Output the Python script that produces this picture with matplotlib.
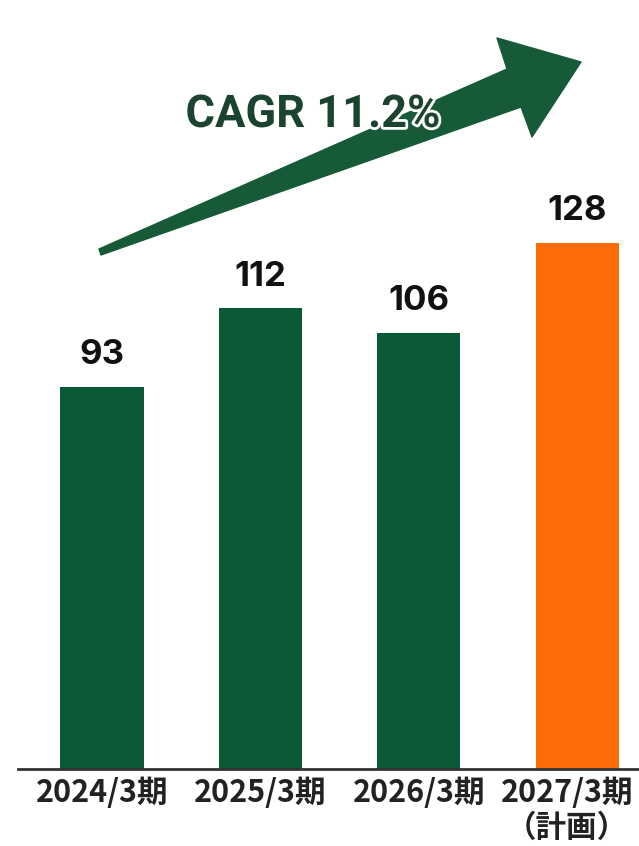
import matplotlib
matplotlib.use("Agg")
import matplotlib.pyplot as plt
from matplotlib.patches import Polygon
from matplotlib.transforms import ScaledTranslation
import matplotlib.patheffects as pe

# ---- data ----
categories = ["2024/3期", "2025/3期", "2026/3期", "2027/3期\n（計画）"]
values = [93, 112, 106, 128]
bar_colors = ["#0b5a37", "#0b5a37", "#0b5a37", "#fb6b06"]
cagr_label = "CAGR 11.2%"

W, H = 639, 846
fig = plt.figure(figsize=(W / 100, H / 100), dpi=100)
fig.patch.set_facecolor("white")

ax = fig.add_axes([18 / W, 1 - 769 / H, 1 - 18 / W, 769 / H])
x = range(len(categories))
ax.bar(x, values, width=0.525, color=bar_colors, zorder=2)
ax.set_xlim(-0.53, 3.39)
ax.set_ylim(0, 187)

for xi, v in zip(x, values):
    ax.annotate(str(v), (xi, v), xytext=(0, 16.5), textcoords="offset points",
                ha="center", va="baseline", fontsize=25, fontweight="bold",
                family=["Inter", "DejaVu Sans"], color="#111111")

for s in ["top", "right", "left"]:
    ax.spines[s].set_visible(False)
ax.spines["bottom"].set_linewidth(2)
ax.spines["bottom"].set_color("#333333")
ax.set_yticks([])
ax.set_xticks(list(x))
ax.set_xticklabels(categories, fontsize=22, fontweight="bold",
                   family=["Noto Sans CJK JP", "DejaVu Sans"], color="#222222",
                   linespacing=1.12)
ax.tick_params(axis="x", length=0, pad=6)
last = ax.get_xticklabels()[-1]
last.set_transform(last.get_transform() + ScaledTranslation(-10 / 100, 0, fig.dpi_scale_trans))

# ---- growth arrow (decoration, in figure pixel space) ----
pts_px = [(99, 249), (507, 69), (497, 38), (581, 62), (532, 137), (521, 107), (101, 255)]
pts = [(px / W, 1 - py / H) for px, py in pts_px]
arrow = Polygon(pts, closed=True, transform=fig.transFigure, facecolor="#165a37",
                edgecolor="#165a37", linewidth=1, joinstyle="round", zorder=3)
fig.patches.append(arrow)

fig.text(313 / W, 1 - 127 / H, cagr_label, ha="center", va="baseline",
         fontsize=32.5, fontweight="bold", family=["Roboto", "DejaVu Sans"],
         color="#1b4430", zorder=5,
         path_effects=[pe.withStroke(linewidth=4, foreground="white")])

fig.savefig("out.png", dpi=100, facecolor="white")
